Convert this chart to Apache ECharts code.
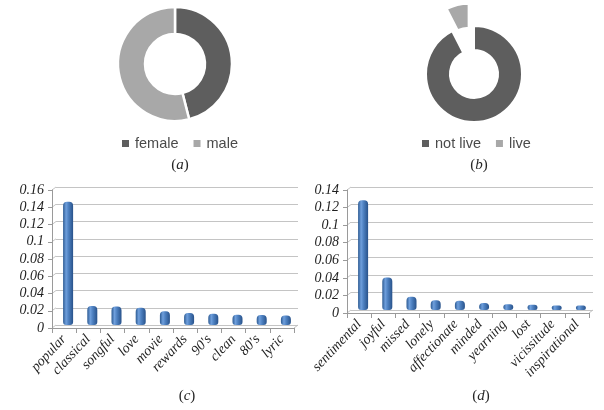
<!DOCTYPE html>
<html>
<head>
<meta charset="utf-8">
<script src="https://cdn.jsdelivr.net/npm/echarts@6/dist/echarts.min.js"></script>
<style>
  html, body { margin: 0; padding: 0; background: #fff; }
  #main { width: 604px; height: 410px; }
</style>
</head>
<body>
<div id="main"></div>
<script>
// (a) gender share
const genderNames = ['female', 'male'];
const genderValues = [0.46, 0.54];

// (b) live vs. studio recordings
const liveNames = ['not live', 'live'];
const liveValues = [0.925, 0.075];

// (c) most frequent descriptive tags
const tagNames = ['popular', 'classical', 'songful', 'love', 'movie', 'rewards', "90's", 'clean', "80's", 'lyric'];
const tagValues = [0.143, 0.022, 0.0215, 0.020, 0.016, 0.014, 0.013, 0.012, 0.0115, 0.011];

// (d) most frequent emotion tags
const moodNames = ['sentimental', 'joyful', 'missed', 'lonely', 'affectionate', 'minded', 'yearning', 'lost', 'vicissitude', 'inspirational'];
const moodValues = [0.125, 0.037, 0.015, 0.011, 0.0105, 0.008, 0.0065, 0.006, 0.005, 0.005];

// axis ranges
const tagAxisMax = 0.16;
const moodAxisMax = 0.14;
const axisStep = 0.02;

const DARK = '#5e5e5e';
const LIGHT = '#a8a8a8';
const GRID_LINE = '#c4c4c4';
const AXIS_LINE = '#9a9a9a';
const SERIF = '"Liberation Serif", "DejaVu Serif", serif';
const SANS = '"Liberation Sans", Arial, sans-serif';

const barFill = new echarts.graphic.LinearGradient(0, 0, 1, 0, [
  { offset: 0, color: '#2c5a92' },
  { offset: 0.3, color: '#6f9fdc' },
  { offset: 0.55, color: '#4d80c0' },
  { offset: 1, color: '#28528a' }
]);

// back wall (gridlines + bars) and front frame (axes + labels) of each bar panel
const panels = [
  { wall: { left: 56, top: 187, width: 242, height: 138 }, front: { left: 52, top: 190, width: 242, height: 138 } },
  { wall: { left: 351, top: 187, width: 242, height: 123 }, front: { left: 347, top: 190, width: 242, height: 123 } }
];

const grids = [];
panels.forEach(p => { grids.push(p.wall); grids.push(p.front); });

function wallX(idx, cats) {
  return { gridIndex: idx, type: 'category', data: cats, show: false, boundaryGap: true };
}
function frontX(idx, cats) {
  return {
    gridIndex: idx, type: 'category', data: cats, boundaryGap: true,
    axisLine: { show: true, lineStyle: { color: AXIS_LINE, width: 1 } },
    axisTick: { show: true, interval: 0, length: 5, lineStyle: { color: AXIS_LINE } },
    axisLabel: {
      interval: 0, rotate: 47, margin: 9,
      fontFamily: SERIF, fontStyle: 'italic', fontSize: 14, color: '#1f1f1f'
    }
  };
}
function wallY(idx, max) {
  return {
    gridIndex: idx, type: 'value', min: 0, max: max, interval: axisStep,
    axisLine: { show: false }, axisTick: { show: false }, axisLabel: { show: false },
    splitLine: { show: true, lineStyle: { color: GRID_LINE, width: 1 } }
  };
}
function frontY(idx, max) {
  return {
    gridIndex: idx, type: 'value', min: 0, max: max, interval: axisStep,
    axisLine: { show: true, lineStyle: { color: AXIS_LINE, width: 1 } },
    axisTick: { show: true, length: 4, lineStyle: { color: AXIS_LINE } },
    splitLine: { show: false },
    axisLabel: {
      margin: 8, fontFamily: SERIF, fontStyle: 'italic', fontSize: 14, color: '#1f1f1f'
    }
  };
}

function capLabel(letter, x, y) {
  return {
    text: '{p|(}{l|' + letter + '}{p|)}',
    left: x, top: y,
    textAlign: 'center',
    textStyle: {
      fontWeight: 'normal',
      rich: {
        p: { fontFamily: SERIF, fontSize: 15, fontWeight: 'normal', color: '#262626' },
        l: { fontFamily: SERIF, fontSize: 15, fontWeight: 'normal', fontStyle: 'italic', color: '#262626' }
      }
    }
  };
}

const chart = echarts.init(document.getElementById('main'), null, { renderer: 'canvas' });

const option = {
  backgroundColor: '#ffffff',
  animation: false,
  title: [
    capLabel('a', 175, 153),
    capLabel('b', 474, 153),
    capLabel('c', 182, 384),
    capLabel('d', 476, 384)
  ],
  legend: [
    {
      data: genderNames, left: 120, top: 136, padding: 0,
      icon: 'rect', itemWidth: 9, itemHeight: 9, itemGap: 13,
      selectedMode: false,
      textStyle: { fontFamily: SANS, fontSize: 14.5, color: '#4a4a4a' }
    },
    {
      data: liveNames, left: 420, top: 136, padding: 0,
      icon: 'rect', itemWidth: 9, itemHeight: 9, itemGap: 13,
      selectedMode: false,
      textStyle: { fontFamily: SANS, fontSize: 14.5, color: '#4a4a4a' }
    }
  ],
  grid: grids,
  xAxis: [
    wallX(0, tagNames), frontX(1, tagNames),
    wallX(2, moodNames), frontX(3, moodNames)
  ],
  yAxis: [
    wallY(0, tagAxisMax), frontY(1, tagAxisMax),
    wallY(2, moodAxisMax), frontY(3, moodAxisMax)
  ],
  series: [
    {
      type: 'pie', center: [175, 64], radius: [30, 57],
      startAngle: 90, clockwise: true,
      label: { show: false }, labelLine: { show: false },
      emphasis: { disabled: true },
      itemStyle: { borderColor: '#ffffff', borderWidth: 2.5 },
      color: [DARK, LIGHT],
      data: genderNames.map((n, i) => ({ name: n, value: genderValues[i] }))
    },
    {
      type: 'pie', center: [474, 74], radius: [24, 48],
      startAngle: 90, clockwise: true,
      selectedMode: 'single', selectedOffset: 23,
      label: { show: false }, labelLine: { show: false },
      emphasis: { disabled: true },
      itemStyle: { borderColor: '#ffffff', borderWidth: 2 },
      color: [DARK, LIGHT],
      data: liveNames.map((n, i) => ({ name: n, value: liveValues[i], selected: n === 'live' }))
    },
    {
      type: 'bar', xAxisIndex: 0, yAxisIndex: 0,
      barWidth: 10,
      itemStyle: { color: barFill, borderRadius: [4, 4, 3, 3] },
      emphasis: { disabled: true },
      data: tagValues
    },
    {
      type: 'bar', xAxisIndex: 2, yAxisIndex: 2,
      barWidth: 10,
      itemStyle: { color: barFill, borderRadius: [4, 4, 3, 3] },
      emphasis: { disabled: true },
      data: moodValues
    }
  ]
};

chart.setOption(option);

// Short slanted connectors that give the panels their shallow 3D depth:
// each tick on the front frame is joined to the matching gridline on the back wall.
function depthLines() {
  const els = [];
  const line = (a, b) => els.push({
    type: 'line', silent: true,
    shape: { x1: a[0], y1: a[1], x2: b[0], y2: b[1] },
    style: { stroke: GRID_LINE, lineWidth: 1 }
  });
  [[0, 1, tagAxisMax], [2, 3, moodAxisMax]].forEach(([w, f, max]) => {
    for (let v = 0; v <= max + 1e-9; v += axisStep) {
      const fp = chart.convertToPixel({ gridIndex: f }, [0, v]);
      const wp = chart.convertToPixel({ gridIndex: w }, [0, v]);
      line([grids[f].left, fp[1]], [grids[w].left, wp[1]]);
    }
    // right end of the floor
    const fEnd = grids[f].left + grids[f].width;
    const wEnd = grids[w].left + grids[w].width;
    const fy = grids[f].top + grids[f].height;
    const wy = grids[w].top + grids[w].height;
    line([fEnd, fy], [wEnd, wy]);
  });
  return els;
}
chart.setOption({ graphic: depthLines() });
</script>
</body>
</html>
